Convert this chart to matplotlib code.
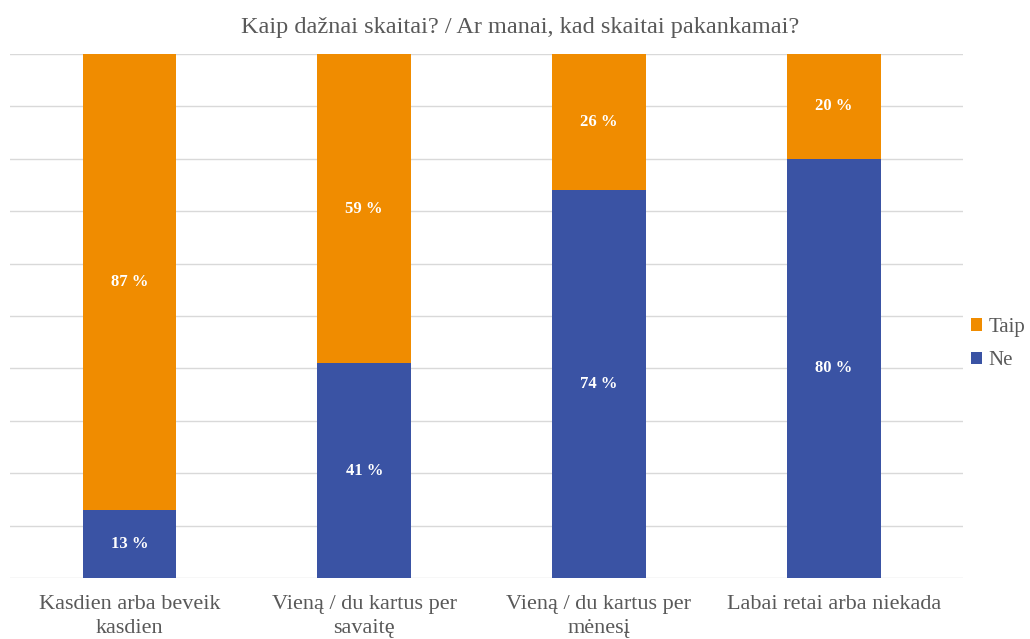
import matplotlib
matplotlib.use("Agg")
import matplotlib.pyplot as plt
import numpy as np

categories = ["Kasdien arba beveik\nkasdien", "Vieną / du kartus per\nsavaitę",
              "Vieną / du kartus per\nmėnesį", "Labai retai arba niekada"]
ne = [13, 41, 74, 80]
taip = [87, 59, 26, 20]
title = "Kaip dažnai skaitai? / Ar manai, kad skaitai pakankamai?"

c_ne = "#3A53A4"
c_taip = "#F08C00"
txt = "#595959"

plt.rcParams['font.family'] = ['Liberation Serif', 'DejaVu Serif']

fig = plt.figure(figsize=(10.30, 6.39), dpi=100)
ax = fig.add_axes([10/1030, (639-578)/639, (963-10)/1030, (578-54)/639])

x = np.arange(len(categories))
w = 0.40
b1 = ax.bar(x, ne, w, color=c_ne, label="Ne", zorder=3)
b2 = ax.bar(x, taip, w, bottom=ne, color=c_taip, label="Taip", zorder=3)

for i in range(len(categories)):
    ax.text(x[i], ne[i]/2, f"{ne[i]} %", ha="center", va="center", color="white",
            fontsize=12, fontweight="bold", zorder=4)
    ax.text(x[i], ne[i] + taip[i]/2, f"{taip[i]} %", ha="center", va="center", color="white",
            fontsize=12, fontweight="bold", zorder=4)

ax.set_xlim(-0.509, 3.551)
ax.set_ylim(0, 100)
ax.set_yticks(np.arange(0, 101, 10))
ax.yaxis.grid(True, color="#D9D9D9", linewidth=1, zorder=0)
ax.tick_params(axis="y", left=False, labelleft=False)
ax.tick_params(axis="x", bottom=False, colors=txt, labelsize=16, pad=9)
ax.set_xticks(x)
ax.set_xticklabels(categories, linespacing=1.3)
for s in ax.spines.values():
    s.set_visible(False)

fig.text(520/1030, 1 - 28/639, title, ha="center", va="center", fontsize=17.5, color=txt)

handles = [b2, b1]
leg = fig.legend(handles, ["Taip", "Ne"], loc="center left", bbox_to_anchor=(971/1030, 1 - 344/639),
                 frameon=False, fontsize=15, handlelength=0.55, handleheight=0.55, handletextpad=0.3,
                 labelspacing=0.7, labelcolor=txt, borderpad=0, borderaxespad=0)

fig.savefig("out.png", dpi=100)
